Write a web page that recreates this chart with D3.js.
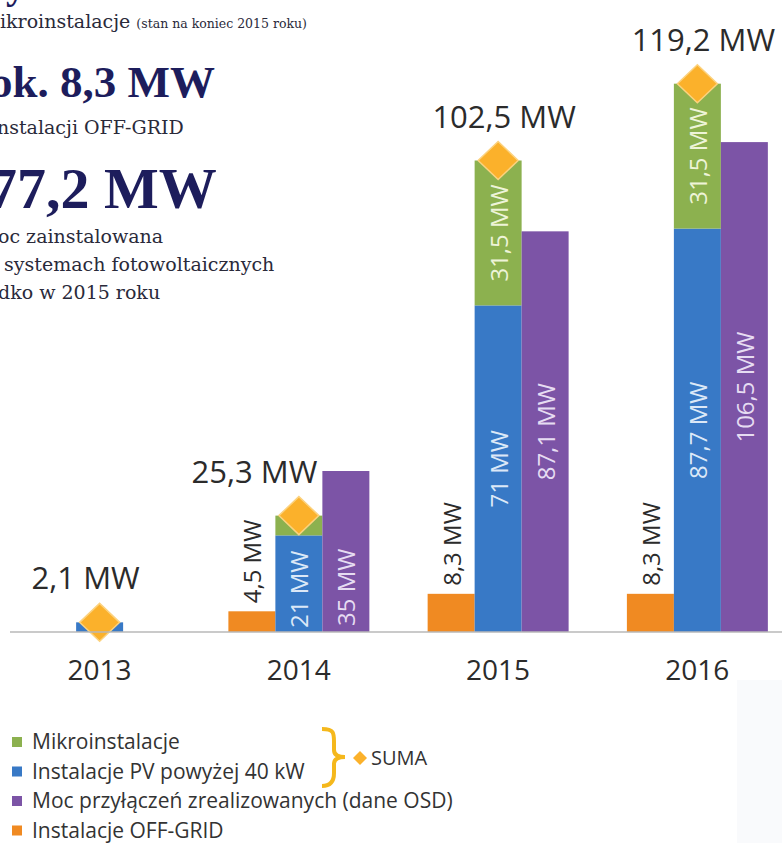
<!DOCTYPE html>
<html>
<head>
<meta charset="utf-8">
<script src="https://cdn.jsdelivr.net/npm/d3@7"></script>
<style>
  body { margin: 0; background: #fff; }
  svg { display: block; }
</style>
</head>
<body>
<div id="chart"></div>
<script>
// dane z wykresu (MW)
const years = ["2013", "2014", "2015", "2016"];
const mikro = [0, 4.3, 31.5, 31.5];
const pv = [2.1, 21, 71, 87.7];
const osd = [0, 35, 87.1, 106.5];
const offgrid = [0, 4.5, 8.3, 8.3];
const suma = [2.1, 25.3, 102.5, 119.2];

const legendItems = [
    {name: "Mikroinstalacje", color: "#8cb14f"},
    {name: "Instalacje PV powyżej 40 kW", color: "#3879c6"},
    {name: "Moc przyłączeń zrealizowanych (dane OSD)", color: "#7c54a6"},
    {name: "Instalacje OFF-GRID", color: "#f08a22"}
];

const width = 782, height = 843;
const base = 632;

const svg = d3.select("#chart")
    .append("svg")
    .attr("width", width)
    .attr("height", height);

// lekko szare tlo w prawym dolnym rogu
svg.append("rect")
    .attr("x", 737).attr("y", 680)
    .attr("width", 45).attr("height", 163)
    .attr("fill", "#f9fafc");

const x = d3.scaleBand()
    .domain(years)
    .range([0, 797])
    .padding(0);

const xi = d3.scaleBand()
    .domain(["off", "pv", "osd"])
    .range([0, x.bandwidth()])
    .paddingInner(0)
    .paddingOuter(0.62);

const y = d3.scaleLinear()
    .domain([0, 120])
    .range([base, 80]);

const fmt = v => String(v).replace(".", ",") + " MW";
const sans = "'Open Sans', 'Noto Sans', sans-serif";
const serif = "'DejaVu Serif', serif";

const data = years.map((yr, i) => ({
    year: yr, mikro: mikro[i], pv: pv[i], osd: osd[i], off: offgrid[i], suma: suma[i]
}));

const g = svg.selectAll("g.year")
    .data(data)
    .enter()
    .append("g")
    .attr("class", "year")
    .attr("transform", d => `translate(${x(d.year)},0)`);

// slupki
g.filter(d => d.off > 0).append("rect")
    .attr("x", xi("off")).attr("width", xi.bandwidth())
    .attr("y", d => y(d.off)).attr("height", d => base - y(d.off))
    .attr("fill", legendItems[3].color);

g.append("rect")
    .attr("x", xi("pv")).attr("width", xi.bandwidth())
    .attr("y", d => y(d.pv)).attr("height", d => base - y(d.pv))
    .attr("fill", legendItems[1].color);

g.filter(d => d.mikro > 0).append("rect")
    .attr("x", xi("pv")).attr("width", xi.bandwidth())
    .attr("y", d => y(d.pv + d.mikro)).attr("height", d => y(d.pv) - y(d.pv + d.mikro))
    .attr("fill", legendItems[0].color);

g.filter(d => d.osd > 0).append("rect")
    .attr("x", xi("osd")).attr("width", xi.bandwidth())
    .attr("y", d => y(d.osd)).attr("height", d => base - y(d.osd))
    .attr("fill", legendItems[2].color);

// os
svg.append("line")
    .attr("x1", 10).attr("x2", width)
    .attr("y1", base).attr("y2", base)
    .attr("stroke", "#b8b8b8").attr("stroke-width", 1.5);

svg.selectAll("text.yr")
    .data(years)
    .enter()
    .append("text")
    .attr("class", "yr")
    .attr("x", d => x(d) + x.bandwidth() / 2)
    .attr("y", 680)
    .attr("text-anchor", "middle")
    .style("font-family", sans).style("font-size", "28px").style("fill", "#2b2b2b")
    .text(d => d);

// etykiety pionowe
function vlabel(sel, cx, cy, anchor, color, txt) {
    sel.append("text")
        .attr("transform", `translate(${cx},${cy}) rotate(-90)`)
        .attr("text-anchor", anchor)
        .attr("dominant-baseline", "central")
        .style("font-family", sans).style("font-size", "24px").style("fill", color)
        .text(txt);
}

const bc = k => xi(k) + xi.bandwidth() / 2;

g.filter(d => d.off > 0).each(function(d) {
    vlabel(d3.select(this), bc("off"), y(d.off) - 8, "start", "#2b2b2b", fmt(d.off));
});
g.filter(d => d.mikro > 0 && d.year !== "2014").each(function(d) {
    vlabel(d3.select(this), bc("pv"), (y(d.pv) + y(d.pv + d.mikro)) / 2, "middle", "#eef4d8", fmt(d.mikro));
});
g.filter(d => d.osd > 0).each(function(d) {
    const sel = d3.select(this);
    const short = base - y(d.pv) < 200;
    vlabel(sel, bc("pv"), short ? base - 4 : (y(d.pv) + base) / 2, short ? "start" : "middle", "#dce8f7", fmt(d.pv));
    const shortO = base - y(d.osd) < 200;
    vlabel(sel, bc("osd"), shortO ? base - 6 : (y(d.osd) + base) / 2, shortO ? "start" : "middle", "#e6dcf2", fmt(d.osd));
});

// romby SUMA
g.append("path")
    .attr("d", d => {
        const cx = bc("pv"), cy = y(d.suma);
        return `M${cx},${cy - 19} L${cx + 20},${cy} L${cx},${cy + 19} L${cx - 20},${cy} Z`;
    })
    .attr("fill", "#fbb12b")
    .attr("stroke", "#fcd27e").attr("stroke-width", 1.5);

g.append("text")
    .attr("x", d => d.osd > d.suma ? xi("osd") - 5 : bc("pv") + (d.year === "2013" ? -14 : 6))
    .attr("y", d => y(d.suma) - 33)
    .attr("text-anchor", d => d.osd > d.suma ? "end" : "middle")
    .style("font-family", sans).style("font-size", "31px").style("fill", "#2b2b2b")
    .text(d => fmt(d.suma));

// teksty w lewym gornym rogu
const navy = "#1d1d5c";
svg.append("text").attr("x", 6).attr("y", -2)
    .style("font-family", "'Liberation Serif', serif").style("font-weight", "bold")
    .style("font-size", "40px").style("fill", navy).text("y");

const t1 = svg.append("text").attr("x", 0).attr("y", 28)
    .style("font-family", serif).style("font-size", "19px").style("fill", "#2a2a3a");
t1.append("tspan").text("ikroinstalacje ");
t1.append("tspan").style("font-size", "12.5px").text("(stan na koniec 2015 roku)");

svg.append("text").attr("x", -10).attr("y", 97)
    .style("font-family", "'Liberation Serif', serif").style("font-weight", "bold")
    .style("font-size", "45px").style("fill", navy).text("ok. 8,3 MW");

svg.append("text").attr("x", -3).attr("y", 134)
    .style("font-family", serif).style("font-size", "19px").style("fill", "#2a2a3a")
    .text("nstalacji OFF-GRID");

svg.append("text").attr("x", -12).attr("y", 208)
    .style("font-family", "'Liberation Serif', serif").style("font-weight", "bold")
    .style("font-size", "58px").style("fill", navy).text("77,2 MW");

const desc = ["oc zainstalowana", " systemach fotowoltaicznych", "dko w 2015 roku"];
svg.selectAll("text.desc")
    .data(desc)
    .enter()
    .append("text")
    .attr("class", "desc")
    .attr("x", -2)
    .attr("y", (d, i) => 243 + i * 28)
    .attr("xml:space", "preserve")
    .style("font-family", serif).style("font-size", "19px").style("fill", "#2a2a3a")
    .text(d => d);

// legenda
const lg = svg.selectAll("g.leg")
    .data(legendItems)
    .enter()
    .append("g")
    .attr("class", "leg")
    .attr("transform", (d, i) => `translate(12,${742 + i * 29.5})`);

lg.append("rect")
    .attr("x", 0).attr("y", -5)
    .attr("width", 10).attr("height", 10)
    .attr("fill", d => d.color);

lg.append("text")
    .attr("x", 20).attr("y", 7)
    .style("font-family", sans).style("font-size", "21px").style("fill", "#333")
    .text(d => d.name);

svg.append("path")
    .attr("d", "M322,729 C334,729 334,733 334,742 L334,750 C334,755 338,757 345,757 C338,757 334,759 334,764 L334,773 C334,782 330,786 322,786")
    .attr("fill", "none")
    .attr("stroke", "#f5b81c").attr("stroke-width", 4);

svg.append("path")
    .attr("d", "M360,751 L367,758 L360,765 L353,758 Z")
    .attr("fill", "#fbb12b");

svg.append("text")
    .attr("x", 371).attr("y", 765)
    .style("font-family", sans).style("font-size", "20px").style("fill", "#333")
    .text("SUMA");
</script>
</body>
</html>
